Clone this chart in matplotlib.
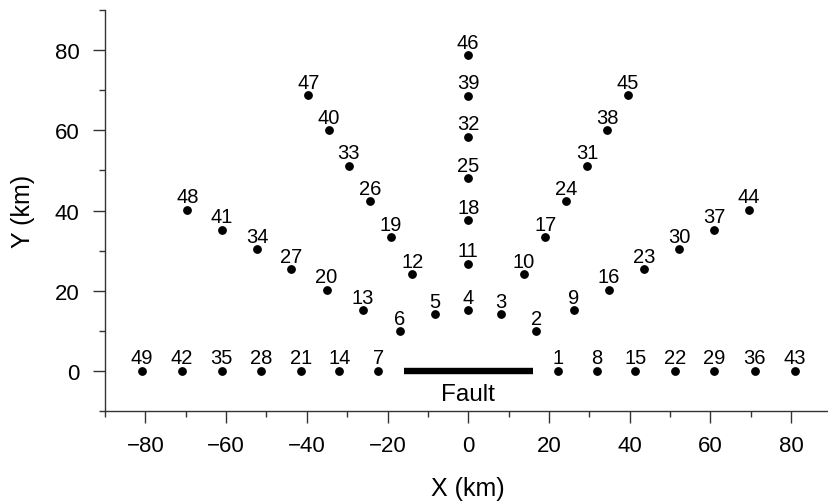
import matplotlib
matplotlib.use("Agg")
import matplotlib.pyplot as plt
from matplotlib.ticker import MultipleLocator

plt.rcParams['font.family'] = ['Liberation Sans', 'DejaVu Sans']

# Station numbers and coordinates (km)
station_ids = list(range(1, 50))
station_x = [22.3, 16.9, 8.1, 0.0, -8.2, -17.0, -22.3,
             31.8, 26.2, 13.8, 0.0, -13.9, -26.2, -31.9,
             41.4, 34.9, 19.1, 0.0, -19.2, -35.1, -41.5,
             51.3, 43.6, 24.3, 0.0, -24.4, -43.8, -51.4,
             61.0, 52.2, 29.5, 0.0, -29.6, -52.3, -61.1,
             71.0, 60.9, 34.5, 0.0, -34.6, -61.0, -71.0,
             80.9, 69.6, 39.5, 0.0, -39.6, -69.6, -80.9]
station_y = [0.0, 9.9, 14.1, 15.1, 14.1, 9.9, 0.0,
             0.0, 15.1, 24.1, 26.7, 24.1, 15.1, 0.0,
             0.0, 20.2, 33.3, 37.6, 33.3, 20.2, 0.0,
             0.0, 25.3, 42.3, 48.0, 42.3, 25.3, 0.0,
             0.0, 30.3, 51.2, 58.4, 51.2, 30.3, 0.0,
             0.0, 35.2, 60.0, 68.6, 60.0, 35.2, 0.0,
             0.0, 40.2, 68.7, 78.7, 68.7, 40.2, 0.0]

# Fault trace (km)
fault_x = [-16.0, 16.0]
fault_y = [0.0, 0.0]

x_major = [-80, -60, -40, -20, 0, 20, 40, 60, 80]
y_major = [0, 20, 40, 60, 80]

fig = plt.figure(figsize=(8.29, 5.02), dpi=100)
ax = fig.add_axes([105 / 829, 1 - 412 / 502, (831.5 - 105) / 829, (412 - 11) / 502])

ax.plot(fault_x, fault_y, color='black', linewidth=4.6, solid_capstyle='butt', zorder=2)
ax.text(0, -7.3, 'Fault', ha='center', va='baseline', fontsize=17.5)

ax.scatter(station_x, station_y, s=28, color='black', zorder=3, clip_on=False)
for sid, sx, sy in zip(station_ids, station_x, station_y):
    ax.annotate(str(sid), (sx, sy), xytext=(0, 5.4), textcoords='offset points',
                ha='center', va='baseline', fontsize=14.5)

ax.set_xlim(-90, 90)
ax.set_ylim(-10, 90)
ax.set_xticks(x_major)
ax.set_yticks(y_major)
ax.set_xticklabels(['\u2212' + str(-v) if v < 0 else str(v) for v in x_major])
ax.xaxis.set_minor_locator(MultipleLocator(10))
ax.yaxis.set_minor_locator(MultipleLocator(10))

for side in ('top', 'right'):
    ax.spines[side].set_visible(False)
for side in ('left', 'bottom'):
    ax.spines[side].set_linewidth(1.0)
    ax.spines[side].set_color('#333333')

ax.tick_params(which='major', direction='out', length=8.4, width=1.0, color='#333333',
               labelsize=16, pad=9)
ax.tick_params(which='minor', direction='out', length=4.3, width=1.0, color='#333333')
ax.tick_params(axis='y', which='major', pad=10)

ax.set_xlabel('X (km)', fontsize=18, labelpad=14)
ax.set_ylabel('Y (km)', fontsize=18, labelpad=14)

fig.savefig('out.png', dpi=100)
